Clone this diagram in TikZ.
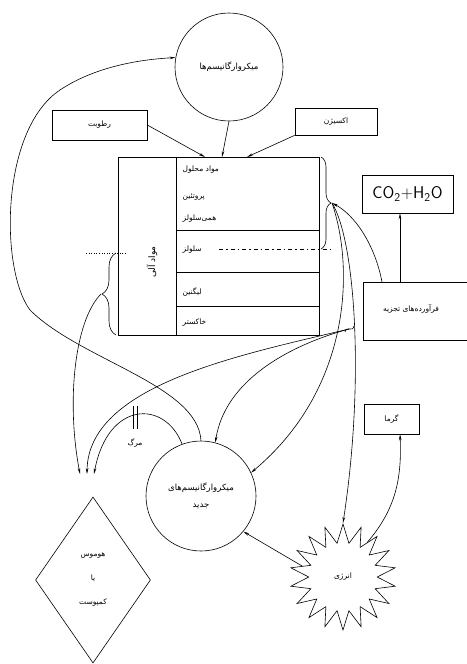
\documentclass[tikz,border=0pt]{standalone}
\usepackage{fontspec}
\newfontfamily\farsi[Script=Arabic]{DejaVu Sans}
\TeXXeTstate=1
\usetikzlibrary{arrows.meta,shapes.geometric,decorations.pathreplacing}
\newcommand{\fatext}[1]{{\farsi\beginR #1\endR}}

\begin{document}
\begin{tikzpicture}[x=1pt,y=-1pt,line width=0.6pt,
    every node/.style={font=\fontsize{7.5}{9}\selectfont},
    box/.style={draw,rectangle,inner sep=0pt},
    blob/.style={draw,circle,inner sep=0pt,minimum size=108pt,align=center,
        font=\fontsize{8.5}{10}\selectfont},
    arr/.style={-{Stealth[length=6pt,width=2.6pt]}}]
    \useasboundingbox (0,0) rectangle (466,664);
    % Microorganisms and the inputs
    \node[blob] (micro) at (229,67) {\fatext{میکروارگانیسم^^^^200cها}};
    \node[box,minimum width=95pt,minimum height=30pt] (moist) at (99.5,125) {\fatext{رطوبت}};
    \node[box,minimum width=82pt,minimum height=27pt] (oxy) at (336,121.5) {\fatext{اکسیژن}};
    % Organic matter block
    \draw (118,157) rectangle (319,335);
    \draw (176,157) -- (176,335);
    \draw (176,230) -- (319,230);
    \draw (176,272) -- (319,272);
    \draw (176,306) -- (319,306);
    \node[rotate=90,font=\fontsize{9}{11}\selectfont] (organic) at (152,262) {\fatext{مواد آلی}};
    \node[anchor=west] (soluble) at (179,170) {\fatext{مواد محلول}};
    \node[anchor=west] (protein) at (179,197) {\fatext{پروتئین}};
    \node[anchor=west] (hemi) at (179,219) {\fatext{همی^^^^200cسلولز}};
    \node[anchor=west] (cellulose) at (179,250) {\fatext{سلولز}};
    \node[anchor=west] (lignin) at (179,292) {\fatext{لیگنین}};
    \node[anchor=west] (ash) at (179,323) {\fatext{خاکستر}};
    \draw[dash pattern=on 4pt off 3pt on 1.5pt off 3pt] (219,249) -- (330,249);
    \draw[dotted] (86,253) -- (127,253);
    % Braces
    \draw[decorate,decoration={brace,amplitude=10pt}] (321,157) -- (321,249);
    \draw[decorate,decoration={brace,amplitude=14pt}] (116,335) -- (116,253);
    \coordinate (rtip) at (332,203);
    \coordinate (ltip) at (101,294);
    \coordinate (eq) at (349,329);
    % Products
    \node[box,minimum width=112pt,minimum height=58pt] (prod) at (419,311) {};
    \node (prodlbl) at (411,309) {\fatext{فرآورده^^^^200cهای تجزیه}};
    \node[box,minimum width=91pt,minimum height=38pt,
        font=\sffamily\fontsize{17}{20}\selectfont] (co2) at (407.5,194) {CO\textsubscript{2}+H\textsubscript{2}O};
    \node[box,minimum width=55pt,minimum height=30pt] (heat) at (391.5,419) {\fatext{گرما}};
    % Lower part
    \node[blob,minimum size=110pt] (newmicro) at (201,496) {\fatext{میکروارگانیسم^^^^200cهای}\\[7pt]\fatext{جدید}};
    \node[star,star points=18,star point ratio=1.55,draw,minimum size=106pt,inner sep=0pt] (energy) at (343,577) {\fatext{انرژی}};
    \node[diamond,draw,minimum width=115pt,minimum height=166pt,inner sep=0pt,align=center] (humus) at (93,580)
        {\fatext{هوموس}\\[15pt]\fatext{یا}\\[15pt]\fatext{کمپوست}};
    \node (death) at (135,443) {\fatext{مرگ}};
    \coordinate (h1) at (80,474);
    \coordinate (h2) at (87,474);
    \coordinate (h3) at (94,474);
    \coordinate (top1) at (205,157);
    \coordinate (top2) at (222,157);
    \coordinate (top3) at (247,157);
    \coordinate (prodtop) at (382,282);
    \coordinate (up1) at (400,282);

    % Arrows into the block
    \draw[arr] (moist.east) -- (top1);
    \draw[arr] (micro.south) -- (top2);
    \draw[arr] (oxy.south west) -- (top3);
    \draw[arr] (up1) -- (up1 |- co2.south);
    % From the braces
    \draw[arr] (prodtop) .. controls (375,245) and (355,215) .. (rtip);
    \draw[arr] (rtip) .. controls (355,240) and (365,380) .. (energy.north);
    \draw[arr] (rtip) .. controls (355,270) and (350,390) .. (newmicro.25);
    \draw[arr] (ltip) .. controls (75,320) and (66,400) .. (h1);
    \draw (345,332) .. controls (347,325) and (352,333) .. (354,326);
    \draw[arr] (eq) .. controls (240,355) and (88,385) .. (h2);
    \draw[arr] (eq) .. controls (290,345) and (225,380) .. (newmicro.75);
    % Death and back to the microorganisms
    \draw[arr] (newmicro.110) .. controls (165,400) and (108,400) .. (h3);
    \draw (133,406) -- (133,429) (137,406) -- (137,429);
    \draw[arr] (newmicro.north) .. controls (198,385) and (80,360) .. (30,310)
        .. controls (0,270) and (0,130) .. (60,90) .. controls (90,70) and (130,60) .. (micro.170);
    % Energy
    \draw[arr] (energy.165) -- (newmicro.-40);
    \draw[arr] (energy.55) .. controls (395,510) and (402,480) .. ([xshift=8.5pt]heat.south);
\end{tikzpicture}
\end{document}
